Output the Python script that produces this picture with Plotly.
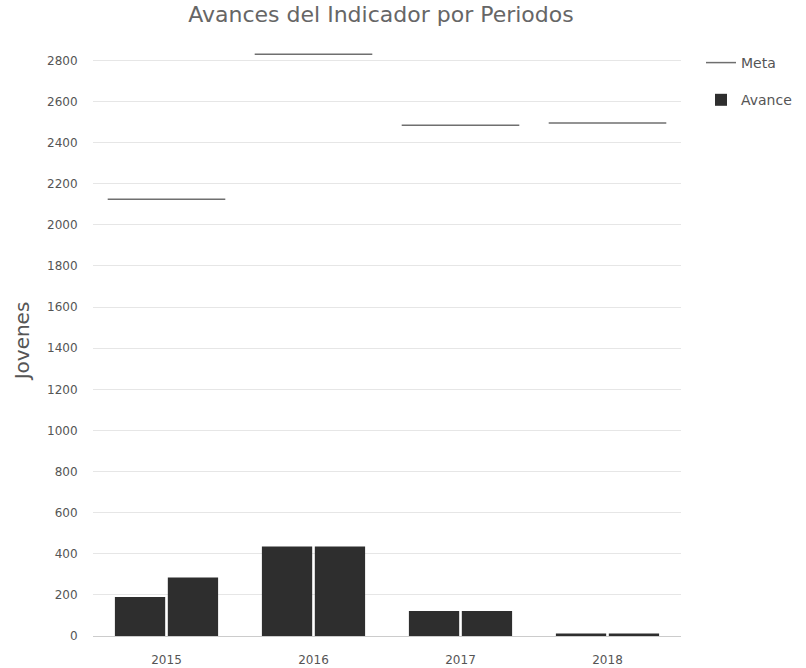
import plotly.graph_objects as go

periodos = ["2015", "2016", "2017", "2018"]
meta = [2125, 2830, 2485, 2495]
avance_a = [190, 435, 122, 12]
avance_b = [285, 435, 122, 12]
y_ticks = list(range(0, 2801, 200))

idx = list(range(len(periodos)))

# Meta segments spanning each period slot
mx, my = [], []
for i, v in zip(idx, meta):
    mx += [i - 0.4, i + 0.4, None]
    my += [v, v, None]

fig = go.Figure()
fig.add_trace(go.Scatter(
    x=mx, y=my, mode="lines", name="Meta",
    line=dict(color="#6f6f6f", width=1.5),
    legendgroup="meta", connectgaps=False,
))
fig.add_trace(go.Bar(
    x=idx, y=avance_a, name="Avance", legendgroup="avance",
    marker=dict(color="#2e2e2e", line=dict(width=0)),
))
fig.add_trace(go.Bar(
    x=idx, y=avance_b, name="Avance", legendgroup="avance", showlegend=False,
    marker=dict(color="#2e2e2e", line=dict(width=0)),
))

fig.update_layout(
    width=806, height=668,
    paper_bgcolor="white", plot_bgcolor="white",
    font=dict(family="DejaVu Sans, Verdana, sans-serif", color="#555555", size=12),
    title=dict(text="Avances del Indicador por Periodos", x=381 / 806, xanchor="center",
               y=0.99, yanchor="top", font=dict(size=22, color="#666666")),
    margin=dict(l=93, r=125, t=45, b=32),
    barmode="group", bargap=0.28, bargroupgap=0.05,
    legend=dict(xref="container", yref="container", x=701 / 806, y=1 - 47 / 668,
                xanchor="left", yanchor="top",
                traceorder="grouped", tracegroupgap=16,
                font=dict(size=14, color="#555555")),
    showlegend=True,
)
fig.update_xaxes(
    range=[-0.5, 3.5], tickvals=idx, ticktext=periodos,
    showgrid=False, zeroline=False, showline=False, automargin=False,
    ticks="outside", ticklen=13, tickcolor="rgba(0,0,0,0)",
    tickfont=dict(size=12, color="#555555"),
)
fig.update_yaxes(
    range=[0, 2875], tickvals=y_ticks, automargin=False,
    showgrid=True, gridcolor="#e6e6e6", gridwidth=1,
    zeroline=True, zerolinecolor="#cccccc", zerolinewidth=1,
    showline=False, ticks="outside", ticklen=12, tickcolor="rgba(0,0,0,0)",
    tickfont=dict(size=12, color="#555555"),
    title=dict(text="Jovenes", font=dict(size=20, color="#555555"), standoff=12),
)

fig.write_html("out.html", config={"displayModeBar": False},
               post_script="document.body.style.margin='0';")
